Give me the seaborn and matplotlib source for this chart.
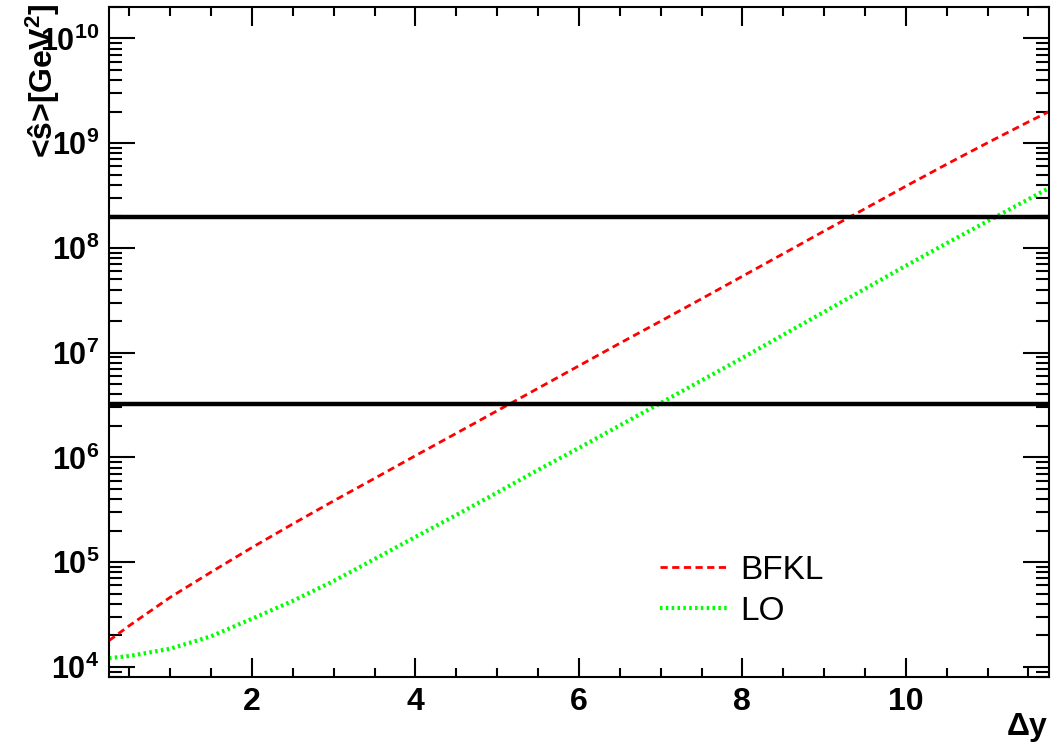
import matplotlib
matplotlib.use("Agg")
import matplotlib.pyplot as plt
import matplotlib.ticker as mticker
import numpy as np
import pandas as pd
import seaborn as sns

# rapidity separation
dy = [0.25, 0.5, 1.0, 1.5, 2.0, 2.5, 3.0, 3.5, 4.0, 4.5, 5.0, 5.5, 6.0,
      6.5, 7.0, 7.5, 8.0, 8.5, 9.0, 9.5, 10.0, 10.5, 11.0, 11.5, 11.75]

# <s_hat> in GeV^2
s_bfkl = [1.78e4, 2.48e4, 4.62e4, 8.04e4, 1.38e5, 2.32e5, 3.85e5, 6.31e5,
          1.04e6, 1.70e6, 2.79e6, 4.57e6, 7.50e6, 1.23e7, 2.00e7, 3.27e7,
          5.37e7, 8.81e7, 1.45e8, 2.37e8, 3.89e8, 6.31e8, 1.01e9, 1.60e9, 2.00e9]
s_lo = [1.21e4, 1.27e4, 1.49e4, 1.96e4, 2.88e4, 4.27e4, 6.61e4, 1.07e5,
        1.74e5, 2.82e5, 4.62e5, 7.59e5, 1.23e6, 2.02e6, 3.31e6, 5.43e6,
        8.91e6, 1.48e7, 2.45e7, 4.07e7, 6.76e7, 1.11e8, 1.80e8, 2.92e8, 3.73e8]

# collider s = (sqrt s)^2 : Tevatron 1.8 TeV, LHC 14 TeV
s_lines = [1.8e3 ** 2, 1.4e4 ** 2]

sns.set_style("ticks", {"axes.edgecolor": "black", "text.color": "black",
                        "xtick.color": "black", "ytick.color": "black"})
plt.rcParams["font.family"] = ["Liberation Sans", "DejaVu Sans"]
plt.rcParams["mathtext.fontset"] = "custom"
plt.rcParams["mathtext.rm"] = "Liberation Sans:bold"
plt.rcParams["mathtext.bf"] = "Liberation Sans:bold"
plt.rcParams["mathtext.it"] = "Liberation Sans:bold:italic"
plt.rcParams["mathtext.default"] = "bf"

df = pd.DataFrame({"dy": dy, "BFKL": s_bfkl, "LO": s_lo})

fig = plt.figure(figsize=(10.51, 7.49), dpi=100)
ax = fig.add_axes([0.1037, 0.0961, 0.8943, 0.8946])

sns.lineplot(data=df, x="dy", y="BFKL", ax=ax, color="#ff0000", lw=2.0, label="BFKL")
ax.lines[-1].set_dashes([2.6, 1.6])
sns.lineplot(data=df, x="dy", y="LO", ax=ax, color="#00ff00", lw=3.0, label="LO")
ax.lines[-1].set_dashes([0.6, 0.8])

for s in s_lines:
    ax.axhline(s, color="black", lw=3.2)

ax.set_yscale("log")
ax.set_xlim(0.25, 11.75)
ax.set_ylim(8.0e3, 2.0e10)

ax.xaxis.set_major_locator(mticker.MultipleLocator(2))
ax.xaxis.set_minor_locator(mticker.MultipleLocator(0.5))
ax.xaxis.set_major_formatter(mticker.FuncFormatter(lambda v, p: f"{v:.0f}"))
ax.yaxis.set_major_locator(mticker.LogLocator(base=10, numticks=20))
ax.yaxis.set_minor_locator(mticker.LogLocator(base=10, subs=np.arange(2, 10), numticks=20))
ax.yaxis.set_minor_formatter(mticker.NullFormatter())
ax.yaxis.set_major_formatter(
    mticker.FuncFormatter(lambda v, p: r"$10^{%d}$" % round(np.log10(v))))

ax.tick_params(which="both", direction="in", top=True, right=True, width=1.5,
               color="black", labelcolor="black")
ax.tick_params(axis="y", which="major", length=19, labelsize=22, pad=7)
ax.tick_params(axis="y", which="minor", length=9.5)
ax.tick_params(axis="x", which="major", length=13.5, labelsize=23, pad=7)
ax.tick_params(axis="x", which="minor", length=6.5)
for lab in ax.get_xticklabels():
    lab.set_fontweight("bold")
for sp in ax.spines.values():
    sp.set_linewidth(1.5)
    sp.set_color("black")
    sp.set_visible(True)

ax.set_xlabel("")
ax.set_ylabel("")
fig.text(0.041, 0.995, "<ŝ>[GeV$^{2}$]", rotation=90, ha="center",
         va="top", fontsize=23, fontweight="bold", color="black")
fig.text(0.997, 0.01, "Δy", ha="right", va="bottom", fontsize=23,
         fontweight="bold", color="black")

leg = ax.legend(loc="upper left", bbox_to_anchor=(0.586, 0.182), frameon=False,
                fontsize=24, handlelength=2.05, handletextpad=0.35,
                labelspacing=0.3, borderpad=0, borderaxespad=0)
for t in leg.get_texts():
    t.set_color("black")

fig.savefig("out.png", dpi=100)
